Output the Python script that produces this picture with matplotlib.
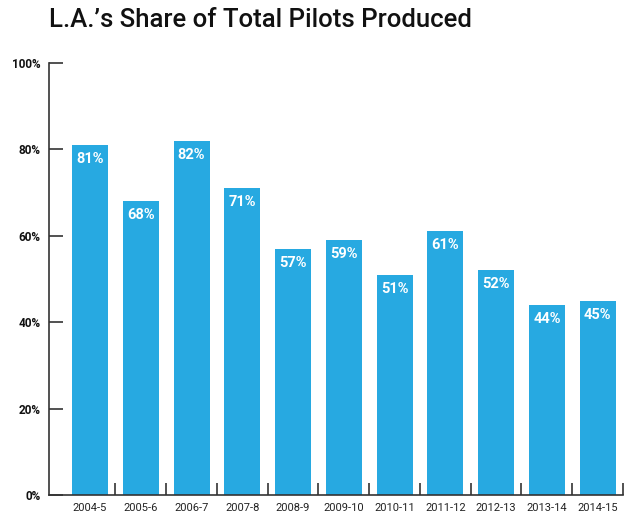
import matplotlib.pyplot as plt

seasons = ["2004-5", "2005-6", "2006-7", "2007-8", "2008-9", "2009-10",
           "2010-11", "2011-12", "2012-13", "2013-14", "2014-15"]
la_share = [81, 68, 82, 71, 57, 59, 51, 61, 52, 44, 45]
y_ticks = [0, 20, 40, 60, 80, 100]

font = ["Roboto", "DejaVu Sans"]
bar_color = "#27A9E1"
axis_color = "#333333"

fig = plt.figure(figsize=(6.4, 5.13), dpi=100)
ax = fig.add_axes([49 / 640, 1 - 495 / 513, (623 - 49) / 640, (495 - 63) / 513])

x = list(range(len(seasons)))
bars = ax.bar(x, la_share, width=0.71, color=bar_color, zorder=2)

for bar, v in zip(bars, la_share):
    ax.annotate(f"{v}%", (bar.get_x() + bar.get_width() / 2, v),
                xytext=(0, -14), textcoords="offset pixels",
                ha="center", va="center", color="white",
                fontsize=10.5, fontweight="bold", family=font)

ax.set_xlim(-0.81, 10.5)
ax.set_ylim(0, 100)

for s in ["top", "right"]:
    ax.spines[s].set_visible(False)
for s in ["left", "bottom"]:
    ax.spines[s].set_color(axis_color)
    ax.spines[s].set_linewidth(1.2)

ax.set_yticks(y_ticks)
ax.set_yticklabels([f"{t}%" for t in y_ticks], fontsize=8.5, fontweight="bold",
                   family=font, color="#111111")
ax.tick_params(axis="y", direction="in", length=10, width=1.2, color=axis_color, pad=6)

# ticks sit between the bars, labels centred under each bar
ax.set_xticks([i + 0.5 for i in x])
ax.set_xticklabels([])
ax.tick_params(axis="x", direction="in", length=9, width=1.2, color=axis_color)
for i, s in zip(x, seasons):
    ax.text(i, -3.0, s, ha="center", va="center", fontsize=8, family=font,
            color="#222222")

fig.text(49 / 640, 1 - 27 / 513, "L.A.\u2019s Share of Total Pilots Produced",
         fontsize=18.5, fontweight="medium", family=font, color="#111111",
         ha="left", va="baseline")

fig.savefig("out.png", dpi=100)
